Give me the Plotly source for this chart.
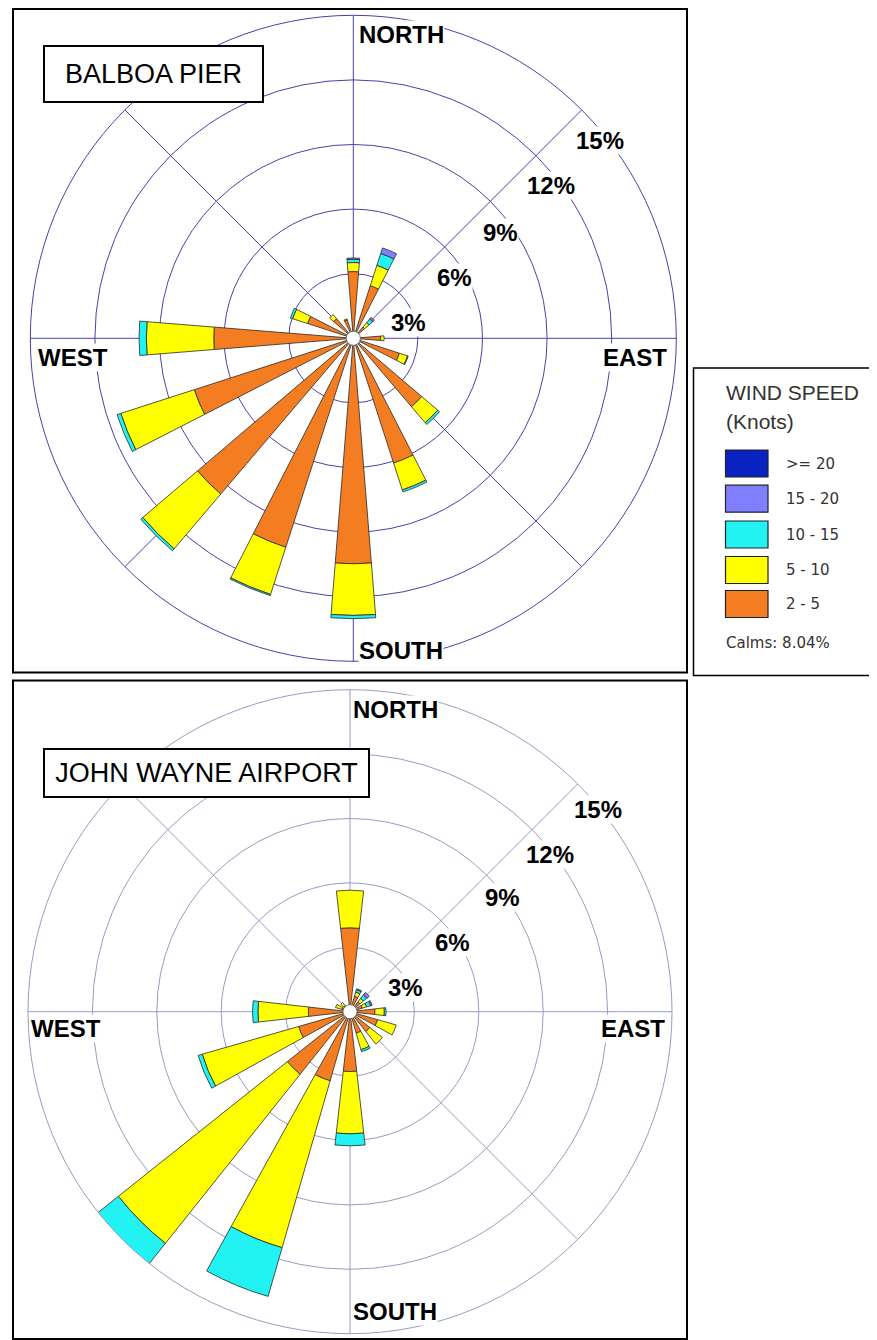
import math
import plotly.graph_objects as go

W, H = 877, 1340
OFF = 8  # browser default body margin

directions = [0, 22.5, 45, 67.5, 90, 112.5, 135, 157.5, 180, 202.5, 225, 247.5, 270, 292.5, 315, 337.5]
bands = ["2 - 5", "5 - 10", "10 - 15", "15 - 20", ">= 20"]
band_colors = ["#F47D22", "#FFFF00", "#22F2F2", "#8080FF", "#0A22C0"]

# Balboa Pier (percent frequency per speed band, N clockwise)
balboa_2_5   = [3.10, 2.57, 0.69, 0, 1.27, 2.25, 4.17, 6.09, 10.47, 10.20, 9.50, 7.76, 6.48, 2.23, 1.20, 0.90]
balboa_5_10  = [0.42, 0.99, 0.27, 0, 0.16, 0.40, 0.98, 1.31, 2.40, 2.30, 3.34, 3.59, 3.13, 0.73, 0.25, 0.05]
balboa_10_15 = [0.15, 0.58, 0.22, 0, 0, 0.03, 0.11, 0.10, 0.15, 0.06, 0.12, 0.18, 0.34, 0.11, 0, 0]
balboa_15_20 = [0.06, 0.27, 0.10, 0, 0, 0, 0, 0, 0, 0, 0, 0, 0, 0, 0, 0]
balboa_20p   = [0, 0, 0, 0, 0, 0, 0, 0, 0, 0, 0, 0, 0, 0, 0, 0]

# John Wayne Airport
jwa_2_5   = [3.91, 0.75, 0.60, 0.60, 1.16, 1.34, 1.18, 1.04, 2.79, 3.35, 3.73, 2.49, 1.94, 0.40, 0.35, 0]
jwa_5_10  = [1.75, 0.20, 0.20, 0.20, 0.44, 0.90, 0.75, 0.80, 2.90, 8.09, 10.07, 4.67, 2.35, 0.30, 0.20, 0]
jwa_10_15 = [0, 0.12, 0.20, 0.20, 0.08, 0, 0, 0.10, 0.56, 2.36, 1.35, 0.20, 0.25, 0, 0, 0]
jwa_15_20 = [0, 0.04, 0.15, 0.07, 0, 0, 0, 0, 0, 0, 0, 0, 0, 0, 0, 0]
jwa_20p   = [0, 0, 0, 0, 0, 0, 0, 0, 0, 0, 0, 0, 0, 0, 0, 0]

ring_vals = [3, 6, 9, 12, 15]
ring_labels = ["3%", "6%", "9%", "12%", "15%"]
spokes = [0, 45, 90, 135, 180, 225, 270, 315]
calm_text = "Calms: 8.04%"
calm_r = 0.33

def px(x):
    return (x - OFF) / W

def py(y):
    return 1 - (y - OFF) / H

# polar geometry (pixel centre + outer radius)
top_c, top_R = (353.3, 338.3), 323
bot_c, bot_R = (350.0, 1011.7), 322

def dom(c, R):
    # slightly taller than wide: radius is set by the width, centre unchanged
    return dict(x=[px(c[0] - R), px(c[0] + R)], y=[py(c[1] + R + 1.5), py(c[1] - R - 1.5)])

fig = go.Figure()

# invisible helper subplot (keeps the real panels off the first polar slot)
fig.add_trace(go.Scatterpolar(r=[0], theta=[0], mode="markers", marker=dict(opacity=0),
                              subplot="polar", showlegend=False, hoverinfo="skip"))

def nz(v):
    return [x if x > 0 else None for x in v]

top_sets = [balboa_2_5, balboa_5_10, balboa_10_15, balboa_15_20, balboa_20p]
bot_sets = [jwa_2_5, jwa_5_10, jwa_10_15, jwa_15_20, jwa_20p]

for vals, name, col in zip(top_sets, bands, band_colors):
    fig.add_trace(go.Barpolar(r=nz(vals), theta=directions, width=9.2, name=name,
                              marker=dict(color=col, line=dict(color="#2a2a2a", width=0.8)),
                              subplot="polar2", showlegend=False))
for vals, name, col in zip(bot_sets, bands, band_colors):
    fig.add_trace(go.Barpolar(r=nz(vals), theta=directions, width=12.9, name=name,
                              marker=dict(color=col, line=dict(color="#2a2a2a", width=0.8)),
                              subplot="polar3", showlegend=False))

grid_spokes = [s for s in spokes if s not in (135, 315)]
shape_spokes = [135, 315]

def polar_layout(c, R, gcol):
    return dict(
        domain=dom(c, R),
        bgcolor="rgba(0,0,0,0)",
        barmode="stack",
        radialaxis=dict(range=[0, 15], tickvals=ring_vals[:-1], showticklabels=False, ticks="",
                        showline=False, gridcolor=gcol, gridwidth=1, angle=90, linecolor=gcol),
        angularaxis=dict(rotation=90, direction="clockwise", tickvals=grid_spokes,
                         showticklabels=False, ticks="", gridcolor=gcol, gridwidth=1,
                         showline=True, linecolor=gcol, linewidth=1),
    )

shapes = []
annotations = []

top_gcol, bot_gcol = "#4a40a8", "#9a9ac4"
for c, R, gcol in [(top_c, top_R, top_gcol), (bot_c, bot_R, bot_gcol)]:
    for a in shape_spokes:
        ex = c[0] + R * math.sin(math.radians(a))
        ey = c[1] - R * math.cos(math.radians(a))
        shapes.append(dict(type="line", xref="paper", yref="paper", x0=px(c[0]), y0=py(c[1]), x1=px(ex), y1=py(ey),
                           line=dict(color=gcol, width=1), layer="below"))

# frames
shapes.append(dict(type="rect", xref="paper", yref="paper", x0=px(13), x1=px(687), y0=py(672.5), y1=py(9),
                   line=dict(color="black", width=2), layer="above"))
shapes.append(dict(type="rect", xref="paper", yref="paper", x0=px(13), x1=px(687), y0=py(1339), y1=py(680.5),
                   line=dict(color="black", width=2), layer="above"))
shapes.append(dict(type="rect", xref="paper", yref="paper", x0=px(693.5), x1=px(875.5), y0=py(675.5), y1=py(368),
                   line=dict(color="black", width=1.5), layer="above"))

# calm circles
for c, R in [(top_c, top_R), (bot_c, bot_R)]:
    rr = calm_r / 15 * R
    shapes.append(dict(type="circle", xref="paper", yref="paper",
                       x0=px(c[0] - rr), x1=px(c[0] + rr), y0=py(c[1] + rr), y1=py(c[1] - rr),
                       fillcolor="white", line=dict(color="#555555", width=0.8), layer="above"))

FONT = "Liberation Sans, Arial, sans-serif"

def ann(text, x, y, size, bold=False, xanchor="center", bg="white", color="black", family=FONT, **kw):
    t = f"<b>{text}</b>" if bold else text
    annotations.append(dict(text=t, x=px(x), y=py(y), xref="paper", yref="paper", showarrow=False,
                            xanchor=xanchor, yanchor="middle", bgcolor=bg, borderpad=0,
                            font=dict(family=family, size=size, color=color), **kw))

# titles
annotations.append(dict(text="BALBOA PIER", x=px(153.7), y=py(74), xref="paper", yref="paper", showarrow=False,
                        xanchor="center", yanchor="middle", bgcolor="white", bordercolor="black", borderwidth=2,
                        borderpad=0, width=217, height=54,
                        font=dict(family=FONT, size=27, color="black")))
annotations.append(dict(text="JOHN WAYNE AIRPORT", x=px(206.5), y=py(773), xref="paper", yref="paper", showarrow=False,
                        xanchor="center", yanchor="middle", bgcolor="white", bordercolor="black", borderwidth=2,
                        borderpad=0, width=323, height=46,
                        font=dict(family=FONT, size=27, color="black")))

# direction labels
ann("NORTH", 358, 35, 24, bold=True, xanchor="left")
ann("SOUTH", 358, 650, 24, bold=True, xanchor="left")
ann("WEST", 37, 357, 24, bold=True, xanchor="left")
ann("EAST", 668, 357, 24, bold=True, xanchor="right")
ann("NORTH", 352, 709, 24, bold=True, xanchor="left")
ann("SOUTH", 352, 1311, 24, bold=True, xanchor="left")
ann("WEST", 30, 1028, 24, bold=True, xanchor="left")
ann("EAST", 666, 1028, 24, bold=True, xanchor="right")

# ring labels
top_lab_pos = [(408, 323), (455, 277), (500, 233), (551, 186), (600, 140)]
bot_lab_pos = [(405, 987), (452, 942), (502, 897), (550, 855), (598, 809)]
for lab, (x, y) in zip(ring_labels, top_lab_pos):
    ann(lab, x, y, 24, bold=True)
for lab, (x, y) in zip(ring_labels, bot_lab_pos):
    ann(lab, x, y, 24, bold=True)

# custom legend
lg = "#333333"
ann("WIND SPEED", 725, 392, 21, xanchor="left", bg=None, color=lg)
ann("(Knots)", 725, 421, 21, xanchor="left", bg=None, color=lg)
sw_y = [463.5, 498.7, 534.5, 570, 604]
for i, (name, col) in enumerate(reversed(list(zip(bands, band_colors)))):
    y = sw_y[i]
    shapes.append(dict(type="rect", xref="paper", yref="paper", x0=px(725.5), x1=px(768), y0=py(y + 13.5), y1=py(y - 13.5),
                       fillcolor=col, line=dict(color="#222222", width=1.2), layer="above"))
    ann(name, 785, y, 15, xanchor="left", bg=None, color=lg, family="DejaVu Sans, sans-serif")
ann(calm_text, 725, 643, 15, xanchor="left", bg=None, color=lg, family="DejaVu Sans, sans-serif")

hidden_polar = dict(
    domain=dict(x=[0.995, 1.0], y=[0.0, 0.004]),
    bgcolor="rgba(0,0,0,0)",
    radialaxis=dict(visible=False, showgrid=False),
    angularaxis=dict(visible=False, showgrid=False, showline=False),
)

fig.update_layout(
    width=W, height=H, autosize=False,
    margin=dict(l=0, r=0, t=0, b=0),
    paper_bgcolor="white", plot_bgcolor="white",
    polar=hidden_polar,
    polar2=polar_layout(top_c, top_R, top_gcol),
    polar3=polar_layout(bot_c, bot_R, bot_gcol),
    shapes=shapes, annotations=annotations,
    showlegend=False,
)

fig.write_html("out.html")
